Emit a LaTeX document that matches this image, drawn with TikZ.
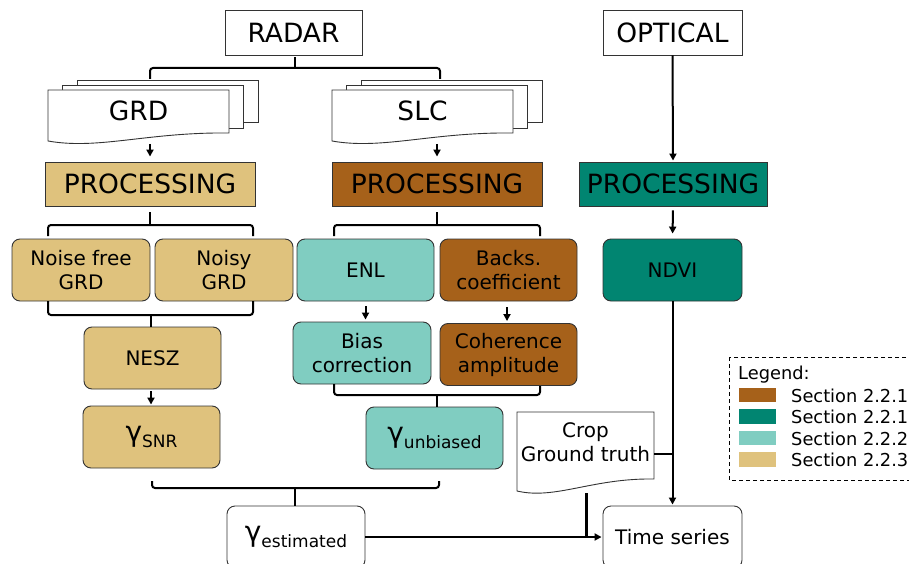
\documentclass[tikz,border=0pt]{standalone}
\usepackage{fontspec}
\setmainfont{DejaVu Sans}
\usetikzlibrary{arrows.meta}

\definecolor{cbrown}{HTML}{A6611A}
\definecolor{cteal}{HTML}{018571}
\definecolor{clteal}{HTML}{80CDC1}
\definecolor{ctan}{HTML}{DFC27D}

% document symbol with a wavy bottom edge: x0, x1, top, bottom-left y, bottom-right y
\newcommand{\drawdoc}[5]{%
  \draw[docline] (#1,#3) -- (#2,#3) -- (#2,#5)
    .. controls ({#1+0.55*(#2-#1)},{#5-1}) and ({#1+0.28*(#2-#1)},{#4+9}) .. (#1,#4) -- cycle;}

\tikzset{
  docline/.style={draw=black!80, fill=white, line width=0.9pt},
  sqbox/.style={draw=black!80, line width=0.9pt, inner sep=0pt, minimum height=44pt,
    font=\fontsize{26.5}{30}\selectfont},
  rbox/.style={draw=black!80, line width=0.9pt, inner sep=0pt, minimum height=62pt,
    minimum width=137pt, rounded corners=8pt, align=center,
    font=\fontsize{20}{24}\selectfont},
  conn/.style={line width=2pt},
  brk/.style={conn, rounded corners=3pt},
  arr/.style={conn, -{Triangle[length=7pt,width=7pt]}},
  big/.style={font=\fontsize{26.5}{30}\selectfont},
  swatch/.style={minimum width=37pt, minimum height=14.5pt, inner sep=0pt},
  legtext/.style={anchor=base west, inner sep=0pt, font=\fontsize{17.8}{22}\selectfont},
}

% gamma with its label set on the level of the gamma's lower end
\newcommand{\gam}[1]{\raisebox{5.5pt}{\fontsize{28}{30}\selectfont γ}{\fontsize{17}{20}\selectfont #1}}

\begin{document}
\begin{tikzpicture}[x=1pt, y=-1pt]
\useasboundingbox (0,0) rectangle (909,564);
\clip (0,0) rectangle (909,564);

% sources
\node[sqbox, minimum width=137pt, minimum height=45pt] (radar) at (293.5,32.5) {RADAR};
\node[sqbox, minimum width=139pt, minimum height=45pt] (optical) at (672.5,32.5) {OPTICAL};

% GRD stack
\draw[docline] (77,80) rectangle (258,122);
\draw[docline] (62,85) rectangle (243,128);
\drawdoc{48}{229}{90}{141}{133}
\node[big] (grd) at (138.5,111) {GRD};

% SLC stack
\draw[docline] (361,80) rectangle (542,122);
\draw[docline] (346,85) rectangle (527,128);
\drawdoc{332}{513}{90}{141}{133}
\node[big] (slc) at (422.5,111) {SLC};

% processing steps
\node[sqbox, fill=ctan, minimum width=210pt] (pgrd) at (150,184) {PROCESSING};
\node[sqbox, fill=cbrown, minimum width=210pt] (pslc) at (437,184) {PROCESSING};
\node[sqbox, fill=cteal, minimum width=188pt] (popt) at (673,184) {PROCESSING};

% products
\node[rbox, fill=ctan, minimum width=138pt] (nfgrd) at (81,270) {Noise free\\GRD};
\node[rbox, fill=ctan, minimum width=138pt] (noisy) at (224,270) {Noisy\\GRD};
\node[rbox, fill=clteal] (enl) at (365.5,270) {ENL};
\node[rbox, fill=cbrown] (backs) at (508.5,270) {Backs.\\coefficient};
\node[rbox, fill=cteal, minimum width=139pt] (ndvi) at (672.5,270) {NDVI};
\node[rbox, fill=ctan] (nesz) at (152.5,358) {NESZ};
\node[rbox, fill=ctan] (gsnr) at (151.5,437) {\gam{SNR}};
\node[rbox, fill=clteal, minimum width=138pt] (bias) at (362,353) {Bias\\correction};
\node[rbox, fill=cbrown] (coh) at (508.5,354.5) {Coherence\\amplitude};
\node[rbox, fill=clteal] (gunb) at (434.5,438) {\gam{unbiased}};
\node[rbox, fill=white, minimum width=138pt] (gest) at (296,537) {\gam{estimated}};
\node[rbox, fill=white, minimum width=139pt] (ts) at (672.5,537) {Time series};

% crop ground truth document
\drawdoc{517}{654}{412}{491}{479}
\node[align=center, inner sep=0pt, font=\fontsize{20}{23.5}\selectfont] (crop) at (585.5,442) {Crop\\Ground truth};
\coordinate (cropR) at (654,454);
\coordinate (cropB) at (586,493);

% brackets and arrows
\coordinate (rj) at (295,68);
\draw[conn] ([yshift=-2pt]radar.south -| rj) -- (rj);
\draw[brk] (150,79) |- (rj) -| (440,79);

\draw[arr, shorten >=5pt] (150,144) -- (pgrd.north);
\draw[arr, shorten >=5pt] (437,144) -- (pslc.north);
\draw[arr, shorten >=1pt] (optical.south) -- (popt.north);

\coordinate (gj) at (150,225);
\draw[conn] ([yshift=-6pt]pgrd.south) -- (gj);
\draw[brk] (48,236) |- (gj) -| (253,236);

\coordinate (sj) at (437,225);
\draw[conn] ([yshift=-6pt]pslc.south) -- (sj);
\draw[brk] (334,236) |- (sj) -| (540,236);

\draw[arr, shorten <=4pt, shorten >=5pt] (popt.south) -- (ndvi.north);

\coordinate (nj) at (150.5,315);
\draw[brk] (48,301) |- (nj) -| (253,301);
\draw[conn] (nj) -- (nj |- nesz.north);
\draw[arr, shorten <=2pt, shorten >=1pt] (nesz.south -| 151,0) -- (gsnr.north -| 151,0);

\draw[arr, shorten <=5pt, shorten >=2pt] (enl.south) -- (enl.south |- bias.north);
\draw[arr, shorten <=6pt, shorten >=2pt] (backs.south -| 507,0) -- (coh.north -| 507,0);

\coordinate (bj) at (437,395);
\draw[brk] (334,384) |- (bj) -| (540,386);
\draw[conn] (bj) -- (bj |- gunb.north);

\coordinate (ej) at (295,488);
\draw[brk] (152,481) |- (ej) -| (439,481);
\draw[conn] (ej) -- (ej |- gest.north);

\draw[arr, shorten >=1pt] (gest.east) -- (ts.west);
\draw[line width=3pt] (cropB) -- (cropB |- gest.east);
\draw[arr, shorten >=1pt] (ndvi.south) -- (ts.north);
\draw[conn] (cropR) -- (cropR -| ndvi.south);

% legend
\draw[line width=0.9pt, dash pattern=on 4pt off 3pt] (729,357) rectangle (915,480);
\node[legtext] (legtitle) at (738,379) {Legend:};
\node[swatch, fill=cbrown] (s1) at (757.5,395) {};
\node[swatch, fill=cteal] (s2) at (757.5,416.5) {};
\node[swatch, fill=clteal] (s3) at (757.5,438) {};
\node[swatch, fill=ctan] (s4) at (757.5,459.5) {};
\node[legtext] (l1) at (791,402) {Section 2.2.1};
\node[legtext] (l2) at (791,423.5) {Section 2.2.1};
\node[legtext] (l3) at (791,445) {Section 2.2.2};
\node[legtext] (l4) at (791,466.5) {Section 2.2.3};
\end{tikzpicture}
\end{document}
